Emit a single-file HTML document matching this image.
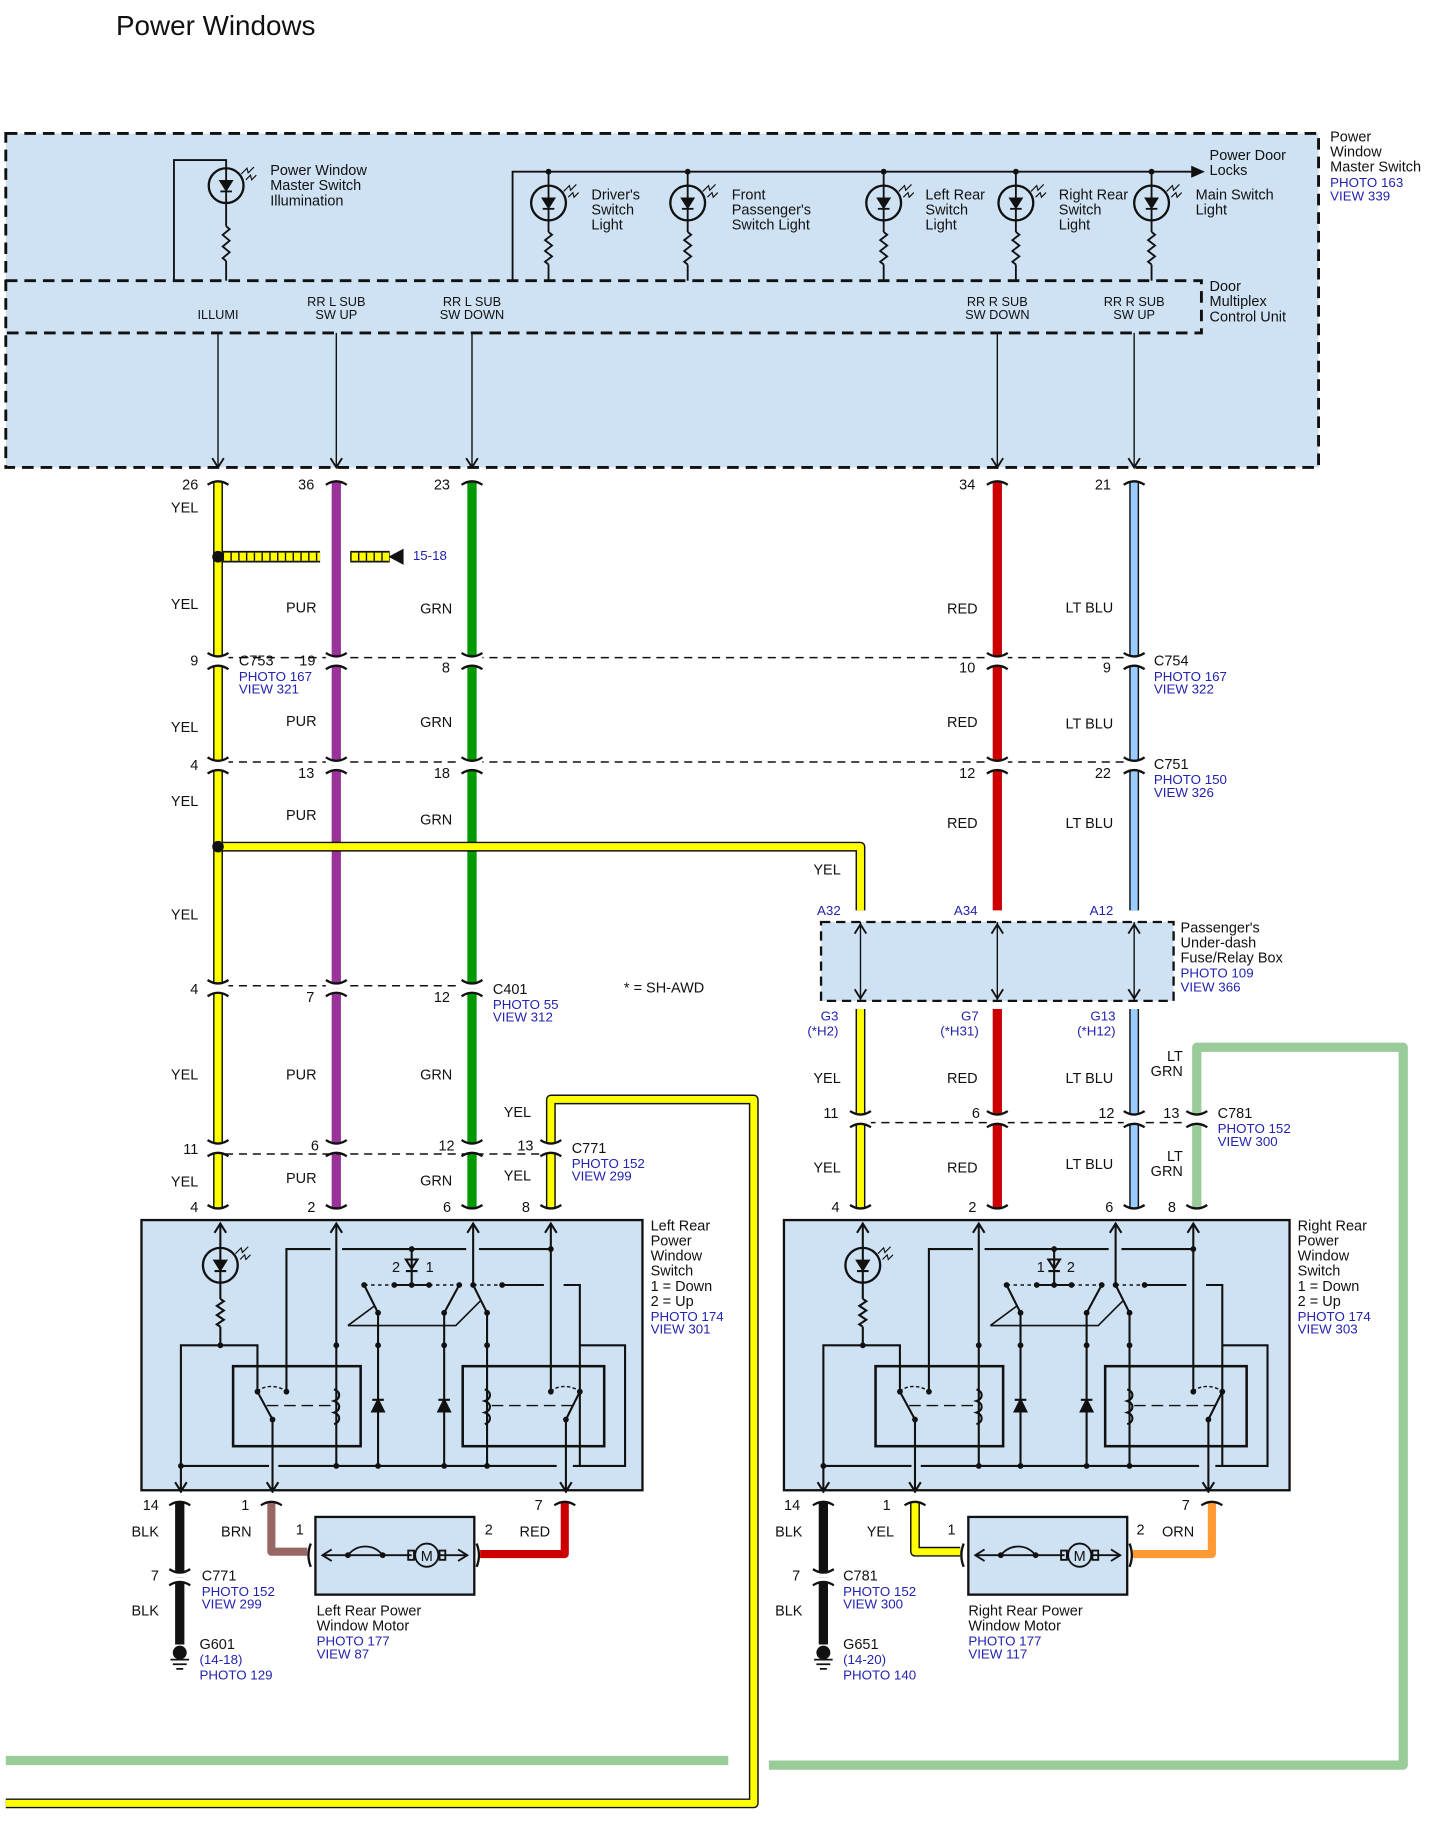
<!DOCTYPE html>
<html><head><meta charset="utf-8"><style>
html,body{margin:0;padding:0;background:#fff}
svg{display:block}
text{font-family:"Liberation Sans",Arial,sans-serif;font-size:12.5px;fill:#111}
.b{fill:#2323b0;font-size:11.5px}
.s{font-size:11px}
</style></head><body>
<svg id="S" width="1438" height="1822" viewBox="0 0 1240 1571" xmlns="http://www.w3.org/2000/svg">
<text x="100" y="30" style="font-size:24px">Power Windows</text>
<rect x="5" y="115" width="1132" height="288" fill="#cfe2f3" stroke="#111" stroke-width="2.5" stroke-dasharray="10,6"/>
<path d="M5 242H1036V287H5" fill="none" stroke="#111" stroke-width="2.5" stroke-dasharray="10,6"/>
<g id="top" fill="none" stroke="#111" stroke-width="1.6"></g>
<text x="1147" y="122">Power</text><text x="1147" y="135">Window</text><text x="1147" y="148">Master Switch</text>
<text x="1147" y="161" class="b">PHOTO 163</text><text x="1147" y="173" class="b">VIEW 339</text>
<text x="233" y="151">Power Window</text><text x="233" y="164">Master Switch</text><text x="233" y="177">Illumination</text>
<text x="1043" y="138">Power Door</text><text x="1043" y="151">Locks</text>
<text x="510" y="172">Driver's</text><text x="510" y="185">Switch</text><text x="510" y="198">Light</text>
<text x="631" y="172">Front</text><text x="631" y="185">Passenger's</text><text x="631" y="198">Switch Light</text>
<text x="798" y="172">Left Rear</text><text x="798" y="185">Switch</text><text x="798" y="198">Light</text>
<text x="913" y="172">Right Rear</text><text x="913" y="185">Switch</text><text x="913" y="198">Light</text>
<text x="1031" y="172">Main Switch</text><text x="1031" y="185">Light</text>
<text x="1043" y="251">Door</text><text x="1043" y="264">Multiplex</text><text x="1043" y="277">Control Unit</text>
<g class="s" text-anchor="middle">
<text x="188" y="275" class="s">ILLUMI</text>
<text x="290" y="264" class="s">RR L SUB</text><text x="290" y="275" class="s">SW UP</text>
<text x="407" y="264" class="s">RR L SUB</text><text x="407" y="275" class="s">SW DOWN</text>
<text x="860" y="264" class="s">RR R SUB</text><text x="860" y="275" class="s">SW DOWN</text>
<text x="978" y="264" class="s">RR R SUB</text><text x="978" y="275" class="s">SW UP</text>
</g>
<rect x="708" y="795" width="304" height="68" fill="#cfe2f3" stroke="#111" stroke-width="2" stroke-dasharray="8,5"/>
<text x="1018" y="804">Passenger's</text><text x="1018" y="817">Under-dash</text><text x="1018" y="830">Fuse/Relay Box</text>
<text x="1018" y="843" class="b">PHOTO 109</text><text x="1018" y="855" class="b">VIEW 366</text>
<rect x="122" y="1052" width="432" height="233" fill="#cfe2f3" stroke="#111" stroke-width="2"/>
<rect x="676" y="1052" width="436" height="233" fill="#cfe2f3" stroke="#111" stroke-width="2"/>
<g id="sw" fill="none" stroke="#111" stroke-width="1.8"></g>
<rect x="272" y="1308" width="137" height="67" fill="#cfe2f3" stroke="#111" stroke-width="2"/>
<rect x="835" y="1308" width="137" height="67" fill="#cfe2f3" stroke="#111" stroke-width="2"/>
<g id="fg" fill="none" stroke="#111" stroke-width="1.6"></g>
<g id="wires" fill="none"></g>
<g id="conns"></g>
<g id="lbl"></g>
</svg>
<script>
var NS="http://www.w3.org/2000/svg";
function el(p,t,a,txt){var e=document.createElementNS(NS,t);for(var k in a)e.setAttribute(k,a[k]);if(txt!=null)e.textContent=txt;document.getElementById(p).appendChild(e);return e;}
function P(p,d,extra){var a={d:d};for(var k in extra)a[k]=extra[k];return el(p,'path',a);}
function T(x,y,s,cls,anc){var a={x:x,y:y};if(cls)a['class']=cls;if(anc)a['text-anchor']=anc;return el('lbl','text',a,s);}
function arrowDown(p,x,y){P(p,'M'+(x-5)+' '+(y-8)+'L'+x+' '+y+'L'+(x+5)+' '+(y-8));}
function arrowUp(p,x,y){P(p,'M'+(x-5)+' '+(y+8)+'L'+x+' '+y+'L'+(x+5)+' '+(y+8));}
function res(p,x,y1,y2){var d='M'+x+' '+y1;var n=6,h=(y2-y1)/n;for(var i=0;i<n;i++){d+='L'+(x+(i%2?-3:3))+' '+(y1+h*(i+0.5));}d+='L'+x+' '+y2;P(p,d);}
function bulb(p,x,y){el(p,'circle',{cx:x,cy:y,r:15,'stroke-width':2});P(p,'M'+x+' '+(y-15)+'V'+(y+15));P(p,'M'+(x-5)+' '+(y-4)+'H'+(x+5)+'L'+x+' '+(y+4)+'Z',{fill:'#111'});P(p,'M'+(x-5)+' '+(y+5)+'H'+(x+5));
P(p,'M'+(x+13)+' '+(y-10)+'l5 -5 l1 4 l5 -5 M'+(x+17)+' '+(y-5)+'l4 -4 l1 4 l4 -4',{'stroke-width':1});}
function dot(p,x,y,r){el(p,'circle',{cx:x,cy:y,r:r||2.5,fill:'#111',stroke:'none'});}
P('top','M150 242V138H195V145');bulb('top',195,160);P('top','M195 175V195');res('top',195,195,225);P('top','M195 225V242');
P('top','M442 242V148H1030');P('top','M1028 144L1037 148L1028 152Z',{fill:'#111'});
[473,593,762,876,993].forEach(function(x){dot('top',x,148);P('top','M'+x+' 148V160');bulb('top',x,175);P('top','M'+x+' 190V200');res('top',x,200,228);P('top','M'+x+' 228V242');});
[188,290,407,860,978].forEach(function(x){P('top','M'+x+' 287V403',{'stroke-width':1.2});arrowDown('top',x,403);});
[742,860,978].forEach(function(x){P('fg','M'+x+' 795V863',{'stroke-width':1.2});arrowUp('fg',x,797);arrowDown('fg',x,861);});
function sw(dx){var p='sw';function X(x){return x+dx;}
 bulb(p,X(190),1091);P(p,'M'+X(190)+' 1055V1076M'+X(190)+' 1106V1120');arrowUp(p,X(190),1055);res(p,X(190),1120,1144);P(p,'M'+X(190)+' 1144V1160');dot(p,X(190),1160);
 P(p,'M'+X(156)+' 1287V1160H'+X(222)+'V1200');arrowDown(p,X(156),1286);dot(p,X(156),1264);
 P(p,'M'+X(156)+' 1264H'+X(232)+'M'+X(240)+' 1264H'+X(480)+'M'+X(494)+' 1264H'+X(539)+'V1160H'+X(500));
 P(p,'M'+X(290)+' 1055V1264');arrowUp(p,X(290),1055);dot(p,X(290),1160);dot(p,X(290),1264);
 P(p,'M'+X(288)+' 1198c6 2 6 8 0 10c6 2 6 8 0 10c6 2 6 8 0 10');
 el(p,'rect',{x:X(201),y:1178,width:110,height:69,'stroke-width':2.2});
 el(p,'rect',{x:X(399),y:1178,width:122,height:69,'stroke-width':2.2});
 P(p,'M'+X(247)+' 1200V1077H'+X(285)+'M'+X(295)+' 1077H'+X(402)+'M'+X(413)+' 1077H'+X(475));dot(p,X(355),1077);dot(p,X(475),1077);
 P(p,'M'+X(475)+' 1055V1200');arrowUp(p,X(475),1055);
 P(p,'M'+X(408)+' 1055V1108');arrowUp(p,X(408),1055);
 P(p,'M'+X(355)+' 1077V1108M'+X(350)+' 1086H'+X(360)+'L'+X(355)+' 1094ZM'+X(350)+' 1096H'+X(360));
 P(p,'M'+X(314)+' 1108L'+X(346)+' 1108',{'stroke-dasharray':'3,3','stroke-width':1.2});P(p,'M'+X(340)+' 1108H'+X(370));
 P(p,'M'+X(370)+' 1108H'+X(396)+'M'+X(408)+' 1108H'+X(433),{'stroke-dasharray':'3,3','stroke-width':1.2});
 P(p,'M'+X(433)+' 1108H'+X(469)+'M'+X(486)+' 1108H'+X(500)+'V1264');
 [314,340,355,370,396,408,433].forEach(function(x){dot(p,X(x),1108);});
 P(p,'M'+X(326)+' 1132L'+X(314)+' 1108M'+X(383)+' 1132L'+X(396)+' 1108M'+X(420)+' 1132L'+X(408)+' 1108');
 P(p,'M'+X(300)+' 1143H'+X(393)+'L'+X(414)+' 1122M'+X(300)+' 1143L'+X(323)+' 1126',{'stroke-width':1.4});
 [326,383,420].forEach(function(x){dot(p,X(x),1132);P(p,'M'+X(x)+' 1132V1264');dot(p,X(x),1160);dot(p,X(x),1264);});
 P(p,'M'+X(321)+' 1217H'+X(331)+'L'+X(326)+' 1207ZM'+X(321)+' 1207H'+X(331),{fill:'#111'});
 P(p,'M'+X(378)+' 1217H'+X(388)+'L'+X(383)+' 1207ZM'+X(378)+' 1207H'+X(388),{fill:'#111'});
 P(p,'M'+X(418)+' 1198c6 2 6 8 0 10c6 2 6 8 0 10c6 2 6 8 0 10');
 P(p,'M'+X(222)+' 1200c5 -6 18 -6 25 0',{'stroke-dasharray':'3,2','stroke-width':1.2});dot(p,X(222),1200);dot(p,X(247),1200);
 P(p,'M'+X(475)+' 1200c5 -6 18 -6 25 0',{'stroke-dasharray':'3,2','stroke-width':1.2});dot(p,X(475),1200);dot(p,X(500),1200);
 P(p,'M'+X(222)+' 1200L'+X(235)+' 1224M'+X(500)+' 1200L'+X(488)+' 1224');
 P(p,'M'+X(230)+' 1212H'+X(288)+'M'+X(424)+' 1212H'+X(494),{'stroke-dasharray':'10,5','stroke-width':1.2});
 P(p,'M'+X(235)+' 1224V1287M'+X(488)+' 1224V1287');dot(p,X(235),1224);dot(p,X(488),1224);
 arrowDown(p,X(235),1286);arrowDown(p,X(488),1286);
}
sw(0);sw(554);
function motor(x){var p='fg';P(p,'M'+(x+6)+' 1341H'+(x+83)+'M'+(x+107)+' 1341H'+(x+131));P(p,'M'+(x+14)+' 1336L'+(x+6)+' 1341L'+(x+14)+' 1346M'+(x+123)+' 1336L'+(x+131)+' 1341L'+(x+123)+' 1346');
 P(p,'M'+(x+28)+' 1341c8 -10 22 -10 30 0');dot(p,x+28,1341);dot(p,x+58,1341);
 el(p,'circle',{cx:x+96,cy:1341,r:10});el(p,'rect',{x:x+80,y:1337,width:5,height:8});el(p,'rect',{x:x+107,y:1337,width:5,height:8});
 el(p,'text',{x:x+96,y:1346,'text-anchor':'middle',stroke:'none'},'M');}
motor(272);motor(835);
function W(d,c,w,out){if(out)P('wires',d,{stroke:'#111','stroke-width':w+2.5,'stroke-linejoin':'round'});P('wires',d,{stroke:c,'stroke-width':w,'stroke-linejoin':'round','stroke-linecap':'butt'});}
var Y='#ffff00';
W('M1032 1042V903H1210V1522H663','#99cc99',8);W('M5 1518H628','#99cc99',8);
W('M475 1042V948H650V1555H5',Y,6,1);
W('M188 415V1042',Y,6,1);
['M192 480H276','M302 480H336'].forEach(function(d){
P('wires',d,{stroke:'#111','stroke-width':10});P('wires',d,{stroke:Y,'stroke-width':7});
P('wires',d,{stroke:'#111','stroke-width':7,'stroke-dasharray':'1.2,5.5'});});
W('M290 415V1042','#993399',8);W('M407 415V1042','#009900',8);
W('M860 415V785','#cc0000',8);W('M978 415V785','#99ccff',6,1);
W('M188 730H742V785',Y,6,1);
W('M742 870V1042',Y,6,1);W('M860 870V1042','#cc0000',8);W('M978 870V1042','#99ccff',6,1);
P('wires','M335 480L348 473V487Z',{fill:'#111'});
el('wires','circle',{cx:188,cy:480,r:5,fill:'#111'});el('wires','circle',{cx:188,cy:730,r:5,fill:'#111'});
W('M155 1295V1418','#111',8);W('M234 1295V1338H265','#996666',7);W('M487 1295V1340H414','#cc0000',7);
W('M710 1295V1418','#111',8);W('M789 1295V1338H828',Y,6,1);W('M1045 1295V1340H977','#ff9933',7);
function gnd(x){el('wires','circle',{cx:x,cy:1425,r:6,fill:'#111'});P('wires','M'+(x-8)+' 1431H'+(x+8)+'M'+(x-6)+' 1435H'+(x+6)+'M'+(x-3)+' 1439H'+(x+3),{stroke:'#111','stroke-width':1.5});}
gnd(155);gnd(710);
function DL(d){P('wires',d,{stroke:'#111','stroke-width':1.3,'stroke-dasharray':'7,5'});}
DL('M194 567H972');DL('M194 657H972');DL('M194 850H401');DL('M194 995H469');DL('M748 968H1026');
function C(x,y,mode){var g='conns';var w=9;
 if(mode!=='b'){el(g,'rect',{x:x-w,y:y-4,width:2*w,height:4,fill:'#fff'});P(g,'M'+(x-w)+' '+(y-7)+'Q'+x+' '+(y-1)+' '+(x+w)+' '+(y-7),{fill:'none',stroke:'#111','stroke-width':2});}
 if(mode!=='t'){el(g,'rect',{x:x-w,y:y,width:2*w,height:4,fill:'#fff'});P(g,'M'+(x-w)+' '+(y+7)+'Q'+x+' '+(y+1)+' '+(x+w)+' '+(y+7),{fill:'none',stroke:'#111','stroke-width':2});}}
[188,290,407,860,978].forEach(function(x){C(x,411,'b');C(x,570);C(x,660);});
[188,290,407].forEach(function(x){C(x,852);});
[188,290,407,475].forEach(function(x){C(x,990);});
[742,860,978,1032].forEach(function(x){C(x,965);});
[188,290,407,475,742,860,978,1032].forEach(function(x){C(x,1046,'t');});
[155,234,487,710,789,1045].forEach(function(x){C(x,1291,'b');});
C(155,1360);C(710,1360);
P('conns','M268 1331q-4 10 0 20M831 1331q-4 10 0 20M411 1331q4 10 0 20M974 1331q4 10 0 20',{fill:'none',stroke:'#111','stroke-width':2});
var L=[[171,422,'26','','end'],[271,422,'36','','end'],[388,422,'23','','end'],[841,422,'34','','end'],[958,422,'21','','end'],
[171,442,'YEL','','end'],[171,525,'YEL','','end'],[273,528,'PUR','','end'],[390,529,'GRN','','end'],[843,529,'RED','','end'],[960,528,'LT BLU','','end'],
[171,574,'9','','end'],[206,574,'C753'],[206,587,'PHOTO 167','b'],[206,598,'VIEW 321','b'],[272,574,'19','','end'],[388,580,'8','','end'],[841,580,'10','','end'],[958,580,'9','','end'],
[995,574,'C754'],[995,587,'PHOTO 167','b'],[995,598,'VIEW 322','b'],
[171,631,'YEL','','end'],[273,626,'PUR','','end'],[390,627,'GRN','','end'],[843,627,'RED','','end'],[960,628,'LT BLU','','end'],
[171,664,'4','','end'],[271,671,'13','','end'],[388,671,'18','','end'],[841,671,'12','','end'],[958,671,'22','','end'],
[995,663,'C751'],[995,676,'PHOTO 150','b'],[995,687,'VIEW 326','b'],
[171,695,'YEL','','end'],[273,707,'PUR','','end'],[390,711,'GRN','','end'],[843,714,'RED','','end'],[960,714,'LT BLU','','end'],
[725,754,'YEL','','end'],[171,793,'YEL','','end'],
[725,789,'A32','b','end'],[843,789,'A34','b','end'],[960,789,'A12','b','end'],
[723,880,'G3','b','end'],[723,893,'(*H2)','b','end'],[844,880,'G7','b','end'],[844,893,'(*H31)','b','end'],[962,880,'G13','b','end'],[962,893,'(*H12)','b','end'],
[538,856,'* = SH-AWD'],
[171,857,'4','','end'],[271,864,'7','','end'],[388,864,'12','','end'],[425,857,'C401'],[425,870,'PHOTO 55','b'],[425,881,'VIEW 312','b'],
[171,931,'YEL','','end'],[273,931,'PUR','','end'],[390,931,'GRN','','end'],[458,963,'YEL','','end'],
[725,934,'YEL','','end'],[843,934,'RED','','end'],[960,934,'LT BLU','','end'],[1020,915,'LT','','end'],[1020,928,'GRN','','end'],
[171,995,'11','','end'],[275,992,'6','','end'],[392,992,'12','','end'],[460,992,'13','','end'],[493,994,'C771'],[493,1007,'PHOTO 152','b'],[493,1018,'VIEW 299','b'],
[723,964,'11','','end'],[845,964,'6','','end'],[961,964,'12','','end'],[1017,964,'13','','end'],[1050,964,'C781'],[1050,977,'PHOTO 152','b'],[1050,988,'VIEW 300','b'],
[171,1023,'YEL','','end'],[273,1020,'PUR','','end'],[390,1022,'GRN','','end'],[458,1018,'YEL','','end'],
[725,1011,'YEL','','end'],[843,1011,'RED','','end'],[960,1008,'LT BLU','','end'],[1020,1001,'LT','','end'],[1020,1014,'GRN','','end'],
[171,1045,'4','','end'],[272,1045,'2','','end'],[389,1045,'6','','end'],[457,1045,'8','','end'],
[724,1045,'4','','end'],[842,1045,'2','','end'],[960,1045,'6','','end'],[1014,1045,'8','','end'],
[561,1061,'Left Rear'],[561,1074,'Power'],[561,1087,'Window'],[561,1100,'Switch'],[561,1113,'1 = Down'],[561,1126,'2 = Up'],[561,1139,'PHOTO 174','b'],[561,1150,'VIEW 301','b'],
[1119,1061,'Right Rear'],[1119,1074,'Power'],[1119,1087,'Window'],[1119,1100,'Switch'],[1119,1113,'1 = Down'],[1119,1126,'2 = Up'],[1119,1139,'PHOTO 174','b'],[1119,1150,'VIEW 303','b'],
[338,1097,'2'],[367,1097,'1'],[894,1097,'1'],[920,1097,'2'],
[137,1302,'14','','end'],[215,1302,'1','','end'],[468,1302,'7','','end'],[137,1325,'BLK','','end'],[217,1325,'BRN','','end'],[262,1323,'1','','end'],[418,1323,'2'],[448,1325,'RED'],
[137,1363,'7','','end'],[174,1363,'C771'],[174,1376,'PHOTO 152','b'],[174,1387,'VIEW 299','b'],[137,1393,'BLK','','end'],
[172,1422,'G601'],[172,1435,'(14-18)','b'],[172,1448,'PHOTO 129','b'],
[273,1393,'Left Rear Power'],[273,1406,'Window Motor'],[273,1419,'PHOTO 177','b'],[273,1430,'VIEW 87','b'],
[690,1302,'14','','end'],[768,1302,'1','','end'],[1026,1302,'7','','end'],[692,1325,'BLK','','end'],[771,1325,'YEL','','end'],[824,1323,'1','','end'],[980,1323,'2'],[1002,1325,'ORN'],
[690,1363,'7','','end'],[727,1363,'C781'],[727,1376,'PHOTO 152','b'],[727,1387,'VIEW 300','b'],[692,1393,'BLK','','end'],
[727,1422,'G651'],[727,1435,'(14-20)','b'],[727,1448,'PHOTO 140','b'],
[835,1393,'Right Rear Power'],[835,1406,'Window Motor'],[835,1419,'PHOTO 177','b'],[835,1430,'VIEW 117','b'],
[356,483,'15-18','b']];
L.forEach(function(a){T(a[0],a[1],a[2],a[3],a[4]);});
</script>
</body></html>
